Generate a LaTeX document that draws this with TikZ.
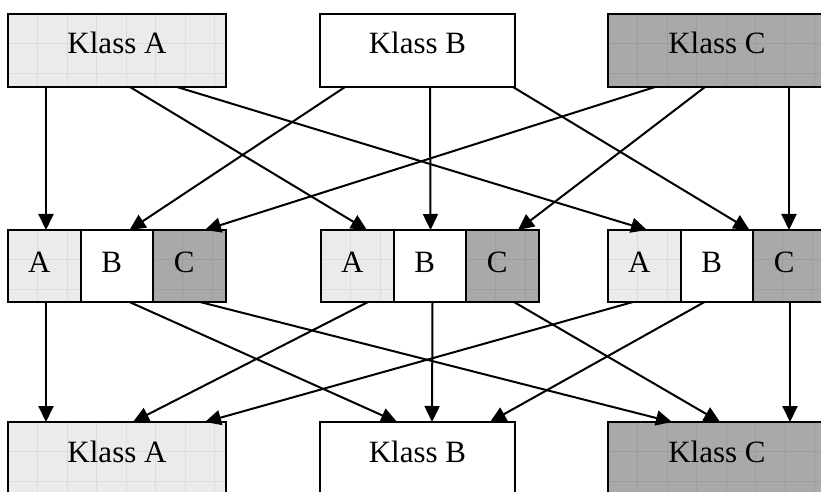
\documentclass[tikz,border=0pt]{standalone}
\usepackage{fontspec}
\setmainfont{Liberation Serif}
\usetikzlibrary{arrows.meta,calc}
\definecolor{lightfill}{HTML}{EBEBEB}
\definecolor{lightgrid}{HTML}{DCDCDC}
\definecolor{darkfill}{HTML}{A9A9A9}
\definecolor{darkgrid}{HTML}{9D9D9D}
\tikzset{
  gridded/.style={path picture={
    \foreach \i in {1,...,8}
      \draw[#1, line width=0.8bp] ($(path picture bounding box.north west)+(\i*29.5,0)$) -- ++(0,100);
    \foreach \j in {1,2,3}
      \draw[#1, line width=0.8bp] ($(path picture bounding box.north west)+(0,\j*29.5)$) -- ++(300,0);
    }},
  box/.style={draw=black, line width=2bp, inner sep=0pt, outer sep=0pt, anchor=north west,
    font=\fontsize{31bp}{36bp}\selectfont},
  wide/.style={box, minimum width=218bp, minimum height=73bp, text height=20bp, text depth=13bp},
  mid/.style={box, minimum width=72.5bp, minimum height=72bp, text height=20bp, text depth=8bp},
  lightbox/.style={fill=lightfill, gridded=lightgrid},
  darkbox/.style={fill=darkfill, gridded=darkgrid},
  whitebox/.style={fill=white},
  arr/.style={line width=2bp, -{Triangle[length=16bp,width=15bp]}},
}
\newcommand{\sh}[1]{#1\kern10bp}
\begin{document}
\begin{tikzpicture}[x=1bp,y=-1bp]
\useasboundingbox (0,0) rectangle (821,492);
\clip (0,0) rectangle (821,492);
% top row
\node[wide,lightbox] (ta) at (8,14) {Klass A};
\node[wide,whitebox,minimum width=195bp] (tb) at (320,14) {Klass B};
\node[wide,darkbox] (tc) at (608,14) {Klass C};
% middle row
\node[mid,lightbox] (a1) at (8,230) {\sh{A}};
\node[mid,whitebox] (b1) at (80.5,230) {\sh{B}};
\node[mid,darkbox] (c1) at (153,230) {\sh{C}};
\node[mid,lightbox] (a2) at (321,230) {\sh{A}};
\node[mid,whitebox] (b2) at (393.5,230) {\sh{B}};
\node[mid,darkbox] (c2) at (466,230) {\sh{C}};
\node[mid,lightbox] (a3) at (608,230) {\sh{A}};
\node[mid,whitebox] (b3) at (680.5,230) {\sh{B}};
\node[mid,darkbox] (c3) at (753,230) {\sh{C}};
% bottom row
\node[wide,lightbox] (ba) at (8,422) {Klass A};
\node[wide,whitebox,minimum width=195bp] (bb) at (320,422) {Klass B};
\node[wide,darkbox] (bc) at (608,422) {Klass C};
% top -> middle
\draw[arr] ($(ta.south west)+(38,0)$) -- ($(a1.north west)+(38,0)$);
\draw[arr] ($(ta.south west)+(122,0)$) -- ($(a2.north west)+(46,0)$);
\draw[arr] ($(ta.south west)+(169,0)$) -- ($(a3.north west)+(39,0)$);
\draw[arr] ($(tb.south west)+(25,0)$) -- ($(b1.north west)+(49,0)$);
\draw[arr] ($(tb.south west)+(110,0)$) -- ($(b2.north west)+(37,0)$);
\draw[arr] ($(tb.south west)+(193,0)$) -- ($(b3.north west)+(69,0)$);
\draw[arr] ($(tc.south west)+(47,0)$) -- ($(c1.north west)+(52,0)$);
\draw[arr] ($(tc.south west)+(97,0)$) -- ($(c2.north west)+(52,0)$);
\draw[arr] ($(tc.south west)+(181,0)$) -- ($(c3.north west)+(36,0)$);
% middle -> bottom
\draw[arr] ($(a1.south west)+(38,0)$) -- ($(ba.north west)+(38,0)$);
\draw[arr] ($(a2.south west)+(47,0)$) -- ($(ba.north west)+(125,0)$);
\draw[arr] ($(a3.south west)+(25,0)$) -- ($(ba.north west)+(197,0)$);
\draw[arr] ($(b1.south west)+(49,0)$) -- ($(bb.north west)+(77,0)$);
\draw[arr] ($(b2.south west)+(39,0)$) -- ($(bb.north west)+(112,0)$);
\draw[arr] ($(b3.south west)+(24,0)$) -- ($(bb.north west)+(170,0)$);
\draw[arr] ($(c1.south west)+(47,0)$) -- ($(bc.north west)+(64,0)$);
\draw[arr] ($(c2.south west)+(48,0)$) -- ($(bc.north west)+(112,0)$);
\draw[arr] ($(c3.south west)+(37,0)$) -- ($(bc.north west)+(182,0)$);
\end{tikzpicture}
\end{document}
